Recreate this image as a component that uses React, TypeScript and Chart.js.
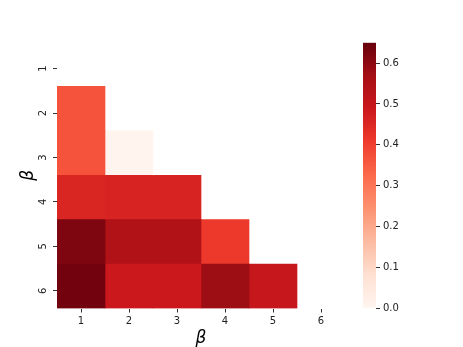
import React, { useEffect, useRef } from "react";
import { Chart, registerables } from "chart.js";

Chart.register(...registerables);

// ---- data ----
const xTickLabels = ["1", "2", "3", "4", "5", "6"];
const yTickLabels = ["1", "2", "3", "4", "5", "6"];
// lower-triangular values, row r holds columns 1..r-1
const row1: number[] = [];
const row2 = [0.365];
const row3 = [0.365, 0.005];
const row4 = [0.455, 0.46, 0.46];
const row5 = [0.62, 0.546, 0.546, 0.41];
const row6 = [0.635, 0.49, 0.49, 0.58, 0.5];
const rows = [row1, row2, row3, row4, row5, row6];
const vMin = 0;
const vMax = 0.65;
const cbTicks = [0, 0.1, 0.2, 0.3, 0.4, 0.5, 0.6];
const axisTitle = "β";

// Reds colormap stops
const reds: [number, number, number][] = [
  [255, 245, 240],
  [254, 224, 210],
  [252, 187, 161],
  [252, 146, 114],
  [251, 106, 74],
  [239, 59, 44],
  [203, 24, 29],
  [165, 15, 21],
  [103, 0, 13],
];

function colorFor(v: number): string {
  let t = (v - vMin) / (vMax - vMin);
  t = Math.max(0, Math.min(1, t));
  const p = t * (reds.length - 1);
  const i = Math.min(reds.length - 2, Math.floor(p));
  const f = p - i;
  const a = reds[i];
  const b = reds[i + 1];
  const c = a.map((x, k) => Math.round(x + (b[k] - x) * f));
  return `rgb(${c[0]},${c[1]},${c[2]})`;
}

const FONT = "'DejaVu Sans', sans-serif";
const TICK_COLOR = "#222";

export default function App() {
  const mainRef = useRef<HTMLCanvasElement | null>(null);
  const cbRef = useRef<HTMLCanvasElement | null>(null);

  useEffect(() => {
    if (!mainRef.current || !cbRef.current) return;
    const nCols = xTickLabels.length;
    const datasets: any[] = [];
    for (let c = 0; c < nCols; c++) {
      const data: any[] = [];
      const colors: string[] = [];
      rows.forEach((row, r) => {
        if (c < row.length) {
          data.push({ x: [c + 0.5, c + 1.5], y: r + 1 });
          colors.push(colorFor(row[c]));
        }
      });
      if (data.length) {
        datasets.push({
          data,
          backgroundColor: colors,
          borderWidth: 0,
          grouped: false,
          barPercentage: 1,
          categoryPercentage: 1,
        });
      }
    }

    const main = new Chart(mainRef.current, {
      type: "bar",
      data: { datasets },
      options: {
        indexAxis: "y",
        animation: false,
        responsive: false,
        layout: { padding: { top: 42, right: 118, left: 0, bottom: 0 } },
        plugins: { legend: { display: false }, tooltip: { enabled: false } },
        scales: {
          x: {
            type: "linear",
            position: "bottom",
            min: 0.5,
            max: nCols + 0.5,
            offset: false,
            afterBuildTicks: (s: any) => {
              s.ticks = xTickLabels.map((_, i) => ({ value: i + 1 }));
            },
            afterFit: (s: any) => {
              s.height = 38.5;
            },
            ticks: {
              callback: (v: any) => xTickLabels[Math.round(v) - 1],
              font: { family: FONT, size: 10 },
              color: TICK_COLOR,
              padding: 3,
              maxRotation: 0,
              minRotation: 0,
            },
            grid: {
              display: true,
              offset: false,
              drawOnChartArea: false,
              drawTicks: true,
              tickLength: 4,
              color: "#333",
            },
            border: { display: false },
            title: {
              display: true,
              text: axisTitle,
              font: { family: FONT, size: 17, style: "italic" },
              color: "#000",
              padding: { top: 0, bottom: -2 },
            },
          },
          y: {
            type: "linear",
            reverse: true,
            min: 0.5,
            max: yTickLabels.length + 0.5,
            offset: false,
            afterBuildTicks: (s: any) => {
              s.ticks = yTickLabels.map((_, i) => ({ value: i + 1.1 }));
            },
            afterFit: (s: any) => {
              s.width = 57;
            },
            ticks: {
              callback: (v: any) => yTickLabels[Math.round(v) - 1],
              font: { family: FONT, size: 10 },
              color: TICK_COLOR,
              padding: 6,
              minRotation: 90,
              maxRotation: 90,
              crossAlign: "center",
            },
            grid: {
              display: true,
              offset: false,
              drawOnChartArea: false,
              drawTicks: true,
              tickLength: 4,
              color: "#333",
            },
            border: { display: false },
            title: {
              display: true,
              text: axisTitle,
              font: { family: FONT, size: 17, style: "italic" },
              color: "#000",
              padding: { top: 18, bottom: 0 },
            },
          },
        },
      },
    } as any);

    const cb = new Chart(cbRef.current, {
      type: "bar",
      data: {
        labels: ["cb"],
        datasets: [
          {
            data: [[vMin, vMax]],
            borderWidth: 0,
            barPercentage: 1,
            categoryPercentage: 1,
            backgroundColor: (ctx: any) => {
              const area = ctx.chart.chartArea;
              if (!area) return colorFor(vMax);
              const g = ctx.chart.ctx.createLinearGradient(0, area.bottom, 0, area.top);
              reds.forEach((c, i) =>
                g.addColorStop(i / (reds.length - 1), `rgb(${c[0]},${c[1]},${c[2]})`)
              );
              return g;
            },
          },
        ],
      },
      options: {
        animation: false,
        responsive: false,
        layout: { padding: { top: 42.7, right: 47, left: 363, bottom: 39 } },
        plugins: { legend: { display: false }, tooltip: { enabled: false } },
        scales: {
          x: { display: false },
          y: {
            type: "linear",
            position: "right",
            min: vMin,
            max: vMax,
            afterBuildTicks: (s: any) => {
              s.ticks = cbTicks.map((v) => ({ value: v }));
            },
            afterFit: (s: any) => {
              s.width = 40;
            },
            ticks: {
              callback: (v: any) => Number(v).toFixed(1),
              font: { family: FONT, size: 10 },
              color: TICK_COLOR,
              padding: 3,
            },
            grid: {
              display: true,
              drawOnChartArea: false,
              drawTicks: true,
              tickLength: 4,
              color: "#333",
            },
            border: { display: false },
          },
        },
      },
    } as any);

    return () => {
      main.destroy();
      cb.destroy();
    };
  }, []);

  return (
    <div style={{ position: "absolute", left: 0, top: 0, width: 463, height: 347, background: "#fff" }}>
      <canvas ref={mainRef} width={463} height={347} style={{ position: "absolute", left: 0, top: 0 }} />
      <canvas
        ref={cbRef}
        width={463}
        height={347}
        style={{ position: "absolute", left: 0, top: 0, pointerEvents: "none" }}
      />
    </div>
  );
}
